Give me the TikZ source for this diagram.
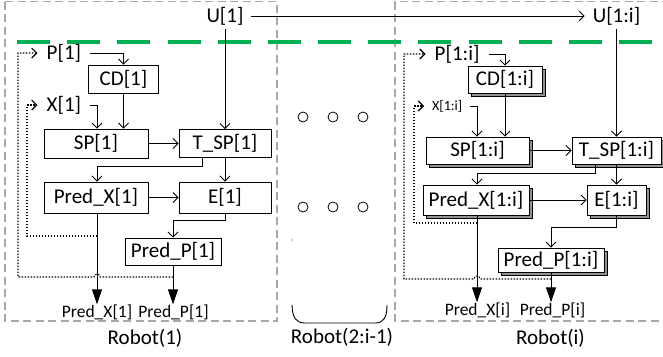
\documentclass[tikz,border=0pt]{standalone}
\usepackage{fontspec}
\setmainfont{Carlito}
\usetikzlibrary{arrows.meta,shadows}
\definecolor{bandgreen}{RGB}{0,176,80}
\definecolor{framegray}{RGB}{168,168,168}
\begin{document}
\begin{tikzpicture}[x=1pt,y=-1pt,
  every node/.style={inner sep=0pt},
  lbl/.style={font=\fontsize{21}{22}\selectfont},
  small/.style={font=\fontsize{17.5}{18}\selectfont},
  tiny/.style={font=\fontsize{14}{15}\selectfont},
  blk/.style={draw, line width=0.9pt, fill=white, lbl},
  multi/.style={blk, copy shadow={shadow xshift=3.5pt, shadow yshift=-3.5pt,
      fill=gray!85, draw=black, line width=0.6pt}},
  arr/.style={line width=0.8pt, -{Straight Barb[length=5pt,width=10pt]}},
  big/.style={line width=1pt, -{Triangle[length=15pt,width=10pt]}},
  fb/.style={arr, dash pattern=on 1.5pt off 1.5pt, line width=1.1pt},
  frame/.style={draw=framegray, line width=1.3pt, dash pattern=on 8pt off 4.5pt},
  band/.style={draw=bandgreen, line width=4pt, dash pattern=on 33pt off 17.17pt},
]
\useasboundingbox (0,0) rectangle (663,356);

% robot frames
\draw[frame] (5,1.5) rectangle (277,321);
\draw[frame] (670,1.5) -- (395,1.5) -- (395,321) -- (670,321);

% shared green band
\draw[band] (17,42) -- (652,42);

% ---------------- Robot(1) ----------------
\node[lbl, inner xsep=7pt, inner ysep=4pt] (u1) at (225,16) {U[1]};
\node[lbl, inner xsep=9pt, anchor=west] (p1) at (37.5,53) {P[1]};
\node[lbl, inner xsep=9pt, anchor=west] (x1) at (37.5,105) {X[1]};

\node[blk, minimum width=70pt, minimum height=28pt] (cd1) at (123.5,79) {CD[1]};
\node[blk, minimum width=104pt, minimum height=29pt] (sp1) at (96,143.5) {SP[1]};
\node[blk, minimum width=92pt, minimum height=28pt] (tsp1) at (225,143.5) {T\_SP[1]};
\node[blk, minimum width=104pt, minimum height=31pt] (px1) at (96,197.5) {Pred\_X[1]};
\node[blk, minimum width=92pt, minimum height=31pt] (e1) at (225,197.5) {E[1]};
\node[blk, minimum width=96pt, minimum height=27pt] (pp1) at (173,251.5) {Pred\_P[1]};

\node[small] (ox1) at (97,312) {Pred\_X[1]};
\node[small] (op1) at (173.5,312) {Pred\_P[1]};
\node[lbl] (r1) at (145,338) {Robot(1)};

\draw[arr] (p1.east) -| (cd1.north);
\draw[arr] (x1.east) -| (sp1.north -| 97,0);
\draw[arr] (cd1.south) -- (cd1.south |- sp1.north);
\draw[arr] (u1.south) -- (tsp1.north);
\draw[arr] (sp1.east) -- (sp1.east -| tsp1.west);
\draw[arr] (tsp1.south -| 202,0) -- (202,166) -| (px1.north -| 97,0);
\draw[arr] (tsp1.south) -- (e1.north);
\draw[arr] (px1.east) -- (px1.east -| e1.west);
\draw[arr] (e1.south) -- (225,220) -| (pp1.north);
\draw[big] (px1.south -| 97,0) -- (ox1.north);
\draw[big] (pp1.south) -- (pp1.south |- op1.north);

\coordinate (fx1) at (97,236);
\coordinate (fp1) at (173,277);
\draw[fb] (fx1) -| (x1.west -| 27,0) -- (x1.west);
\draw[fb] (fp1) -- (100,277) arc[start angle=0, end angle=180, radius=3pt]
  -- (18,277) |- (p1.west);

% ---------------- Robot(2:i-1) ----------------
\foreach \cx in {303,333,363} {
  \draw[line width=0.8pt] (\cx,117) circle (5pt);
  \draw[line width=0.8pt] (\cx,207) circle (5pt);
}
\fill (292,240) circle (0.6pt);
\draw[line width=0.9pt] (292,305) .. controls (292.5,318) and (296,323) .. (305,323)
  -- (375,323) .. controls (384,323) and (387,317) .. (387,305);
\node[lbl] (rm) at (342,337) {Robot(2:i-1)};

% ---------------- Robot(i) ----------------
\node[lbl, inner xsep=8pt, inner ysep=4pt] (ui) at (616.5,16) {U[1:i]};
\node[lbl, inner xsep=9pt, anchor=west] (pi) at (425.5,54) {P[1:i]};
\node[tiny, inner xsep=8pt, anchor=west] (xi) at (424,106) {X[1:i]};

\node[multi, minimum width=74pt, minimum height=27pt] (cdi) at (505,79.5) {CD[1:i]};
\node[multi, minimum width=103pt, minimum height=27pt] (spi) at (477.5,150.5) {SP[1:i]};
\node[multi, minimum width=89pt, minimum height=27pt] (tspi) at (616.5,150.5) {T\_SP[1:i]};
\node[multi, minimum width=106pt, minimum height=30pt] (pxi) at (476,200) {Pred\_X[1:i]};
\node[multi, minimum width=59pt, minimum height=30pt] (ei) at (616.5,200) {E[1:i]};
\node[multi, minimum width=106pt, minimum height=24pt] (ppi) at (551,260) {Pred\_P[1:i]};

\node[small] (oxi) at (477.5,310) {Pred\_X[i]};
\node[small] (opi) at (552.5,310) {Pred\_P[i]};
\node[lbl] (ri) at (550.5,338) {Robot(i)};

\draw[arr] (u1.east) -- (ui.west);
\draw[arr] (pi.east) -| (cdi.north);
\draw[arr] (xi.east) -| (spi.north -| 477,0);
\draw[arr] (cdi.south) -- (cdi.south |- spi.north);
\draw[arr] (ui.south) -- (tspi.north);
\draw[arr] (spi.east) -- (spi.east -| tspi.west);
\draw[arr] (tspi.south -| 595,0) -- (595,173) -| (pxi.north -| 477,0);
\draw[arr] (tspi.south) -- (ei.north);
\draw[arr] (pxi.east) -- (pxi.east -| ei.west);
\draw[arr] (ei.south) -- (616.5,227) -| (ppi.north);
\draw[big] (pxi.south -| 477,0) -- (oxi.north -| 477,0);
\draw[big] (ppi.south) -- (ppi.south |- opi.north);

\coordinate (fxi) at (477,223);
\coordinate (fpi) at (551,279);
\draw[fb] (fxi) -| (xi.west -| 414,0) -- (xi.west);
\draw[fb] (fpi) -- (480,279) arc[start angle=0, end angle=180, radius=3pt]
  -- (404,279) |- (pi.west);
\end{tikzpicture}
\end{document}
